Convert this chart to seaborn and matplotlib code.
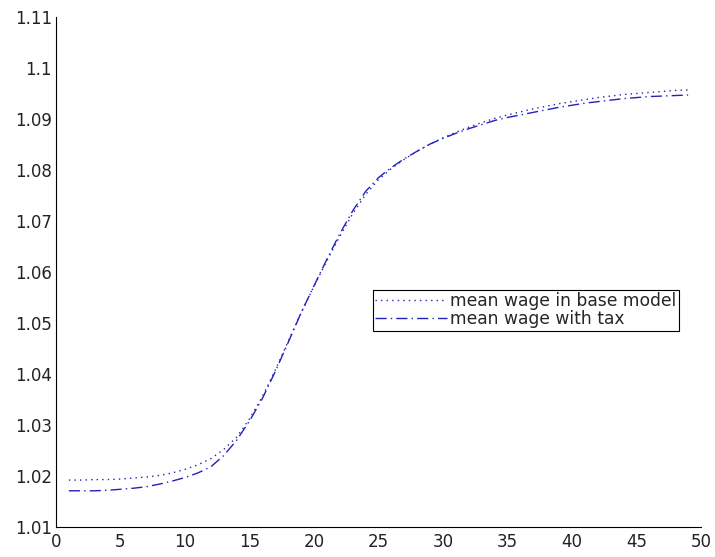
import numpy as np
import pandas as pd
import seaborn as sns
import matplotlib
matplotlib.use("Agg")
import matplotlib.pyplot as plt

periods = list(range(1, 50))
wage_base = [1.0192, 1.0192, 1.0193, 1.0193, 1.0194, 1.0196, 1.0198, 1.0201, 1.0206, 1.0213,
             1.0222, 1.0234, 1.0252, 1.0276, 1.0312, 1.0356, 1.0408, 1.0464, 1.0520, 1.0572,
             1.0622, 1.0670, 1.0714, 1.0752, 1.0781, 1.0803, 1.0821, 1.0837, 1.0851, 1.0863,
             1.0874, 1.0884, 1.0893, 1.0901, 1.0908, 1.0914, 1.0920, 1.0925, 1.0930, 1.0934,
             1.0938, 1.0942, 1.0945, 1.0948, 1.0950, 1.0952, 1.0954, 1.0956, 1.0957]
wage_tax = [1.0171, 1.0171, 1.0171, 1.0172, 1.0174, 1.0176, 1.0179, 1.0184, 1.0190, 1.0197,
            1.0206, 1.0218, 1.0240, 1.0270, 1.0308, 1.0352, 1.0405, 1.0462, 1.0520, 1.0573,
            1.0625, 1.0675, 1.0720, 1.0758, 1.0785, 1.0805, 1.0822, 1.0837, 1.0851, 1.0862,
            1.0872, 1.0881, 1.0889, 1.0897, 1.0903, 1.0908, 1.0913, 1.0918, 1.0923, 1.0927,
            1.0931, 1.0934, 1.0937, 1.0940, 1.0942, 1.0944, 1.0945, 1.0946, 1.0947]
labels = ["mean wage in base model", "mean wage with tax"]
x_ticks = list(range(0, 51, 5))
y_ticks = [1.01, 1.02, 1.03, 1.04, 1.05, 1.06, 1.07, 1.08, 1.09, 1.1, 1.11]
y_tick_labels = ["1.01", "1.02", "1.03", "1.04", "1.05", "1.06", "1.07", "1.08", "1.09", "1.1", "1.11"]

sns.set_style("white")
plt.rcParams['font.family'] = ['DejaVu Sans']

df = pd.DataFrame({"t": periods, "base": wage_base, "tax": wage_tax})

fig = plt.figure(figsize=(7.15, 5.57), dpi=100)
ax = fig.add_axes([56/715, 1 - 527/557, 645/715, 510/557])

color = "#2222bb"
sns.lineplot(data=df, x="t", y="base", ax=ax, color=color, linestyle=(0, (1, 3)), linewidth=1.0, label=labels[0])
sns.lineplot(data=df, x="t", y="tax", ax=ax, color=color, linestyle=(0, (8, 3, 1, 3)), linewidth=1.0, label=labels[1])

ax.set_xlim(0, 50)
ax.set_ylim(1.01, 1.11)
ax.set_xticks(x_ticks)
ax.set_xticklabels([str(v) for v in x_ticks])
ax.set_yticks(y_ticks)
ax.set_yticklabels(y_tick_labels)
ax.set_xlabel("")
ax.set_ylabel("")

for side in ["top", "right"]:
    ax.spines[side].set_visible(False)
for side in ["left", "bottom"]:
    ax.spines[side].set_color("black")
    ax.spines[side].set_linewidth(0.8)

ax.tick_params(axis="both", direction="in", length=6, width=0.8, colors="black",
               labelsize=12, labelcolor="#222222")
ax.tick_params(axis="x", pad=4)
ax.tick_params(axis="y", pad=3)

leg = ax.legend(loc="upper left", bbox_to_anchor=(0.491, 0.465), frameon=True, fancybox=False,
                edgecolor="black", framealpha=1, fontsize=12.3, handlelength=4.2,
                handletextpad=0.2, borderpad=0.15, labelspacing=0.0, borderaxespad=0)
leg.get_frame().set_linewidth(0.8)

fig.savefig("out.png", dpi=100)
